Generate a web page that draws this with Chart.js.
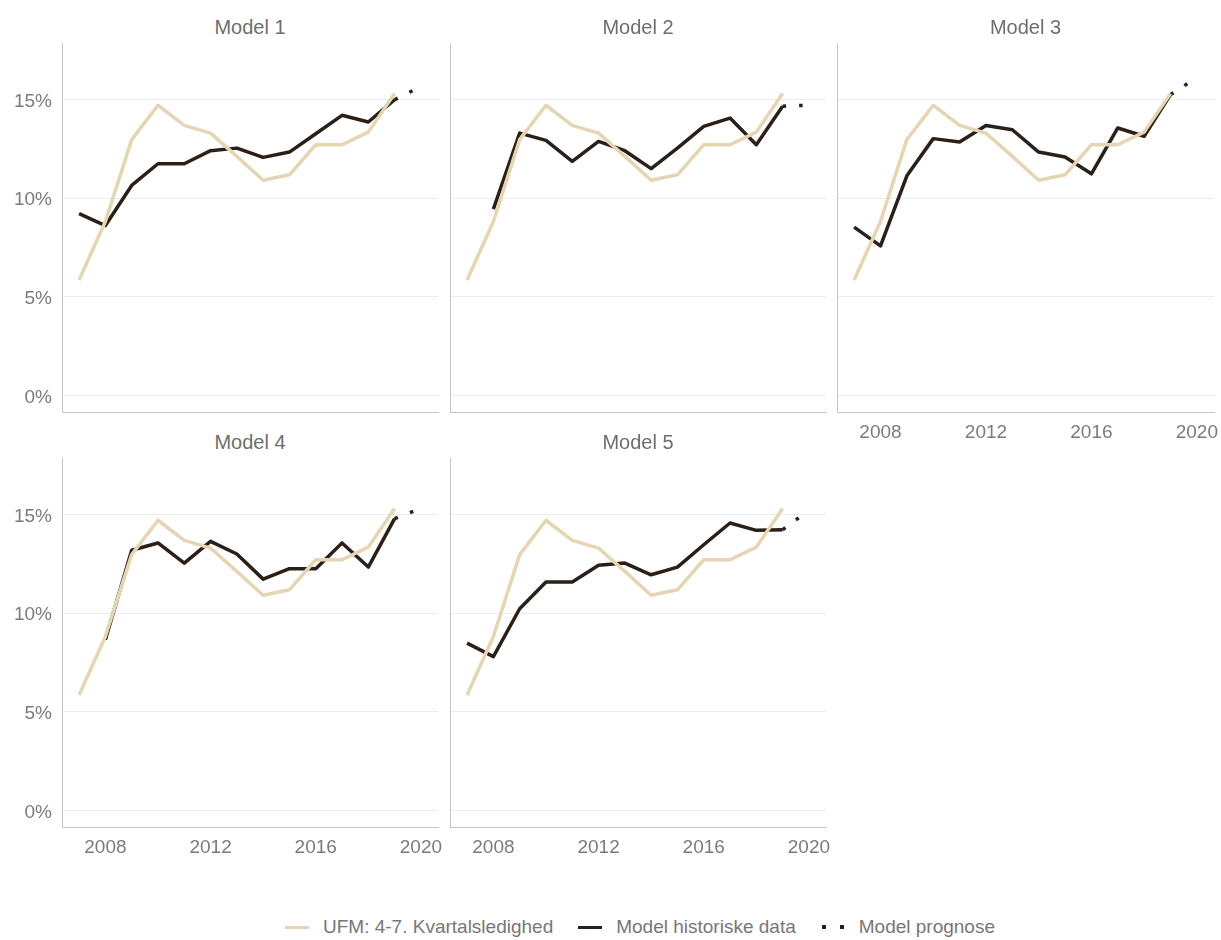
<!DOCTYPE html>
<html><head><meta charset="utf-8">
<script src="https://cdn.jsdelivr.net/npm/chart.js@4.4.1/dist/chart.umd.min.js"></script>
<style>
body{margin:0;background:#fff;width:1221px;height:940px;position:relative;overflow:hidden;font-family:"Liberation Sans",Arial,sans-serif;}
.ptitle{position:absolute;font-size:20px;line-height:20px;color:#6e6e6e;text-align:center;white-space:nowrap;}
canvas{position:absolute;}
#legend{position:absolute;top:916px;left:62px;width:1156px;height:22px;display:flex;justify-content:center;align-items:center;font-size:19px;color:#777;}
#legend .item{display:flex;align-items:center;margin:0 12.5px;}
#legend .key{width:24px;height:3px;margin-right:14px;position:relative;}
#legend .dots{width:24px;height:4px;margin-right:14px;position:relative;}
#legend .dots i{position:absolute;top:0;width:4px;height:4px;background:#2a2018;}
</style></head><body>
<div id="legend"></div>
<script>
// ---- data ----
const years = [2007, 2008, 2009, 2010, 2011, 2012, 2013, 2014, 2015, 2016, 2017, 2018, 2019];
const ufm    = [5.86, 8.82, 12.96, 14.70, 13.68, 13.29, 12.11, 10.90, 11.18, 12.70, 12.70, 13.34, 15.29];
const model1 = [9.21, 8.61, 10.64, 11.74, 11.74, 12.40, 12.53, 12.06, 12.33, 13.26, 14.19, 13.85, 14.98];
const model2 = [null, 9.44, 13.29, 12.92, 11.86, 12.87, 12.40, 11.49, 12.53, 13.63, 14.05, 12.70, 14.65];
const model3 = [8.53, 7.58, 11.13, 13.01, 12.84, 13.67, 13.46, 12.33, 12.08, 11.23, 13.55, 13.13, 15.24];
const model4 = [null, 8.65, 13.18, 13.55, 12.53, 13.63, 12.99, 11.72, 12.25, 12.25, 13.55, 12.33, 14.78];
const model5 = [8.48, 7.80, 10.22, 11.57, 11.57, 12.42, 12.53, 11.94, 12.33, 13.46, 14.56, 14.19, 14.22];
const prognoseYear = 2020;
const prognose = [15.65, 14.70, 16.10, 15.30, 15.20];
const panelTitles = ['Model 1', 'Model 2', 'Model 3', 'Model 4', 'Model 5'];
const seriesNames = ['UFM: 4-7. Kvartalsledighed', 'Model historiske data', 'Model prognose'];
const xTicks = [2008, 2012, 2016, 2020];
const yTicks = [0, 5, 10, 15];

// ---- style / layout ----
const TAN = 'rgb(230,213,178)';
const DARK = '#2a2018';
const models = [model1, model2, model3, model4, model5];
const layout = [
  {l: 62,  t: 43,  w: 376, h: 369, yLab: true,  xLab: false},
  {l: 450, t: 43,  w: 376, h: 369, yLab: false, xLab: false},
  {l: 837, t: 43,  w: 377, h: 369, yLab: false, xLab: true},
  {l: 62,  t: 458, w: 376, h: 369, yLab: true,  xLab: true},
  {l: 450, t: 458, w: 376, h: 369, yLab: false, xLab: true}
];
const X_MIN = 2006.35, X_MAX = 2020.65, Y_MIN = -0.825, Y_MAX = 17.85;
const FONT = '"Liberation Sans", Arial, sans-serif';

models.forEach((m, i) => {
  const L = layout[i];
  const yW = L.yLab ? 62 : 2;
  const xH = L.xLab ? 42 : 2;
  const padR = 12;
  const cv = document.createElement('canvas');
  const cw = yW + L.w + padR, ch = L.h + xH;
  cv.width = cw; cv.height = ch;
  cv.style.width = cw + 'px'; cv.style.height = ch + 'px';
  cv.style.left = (L.l - yW) + 'px'; cv.style.top = L.t + 'px';
  document.body.appendChild(cv);

  const t = document.createElement('div');
  t.className = 'ptitle';
  t.textContent = panelTitles[i];
  t.style.left = L.l + 'px'; t.style.width = L.w + 'px';
  t.style.top = (L.t - 26) + 'px';
  document.body.appendChild(t);

  const histPts = years.map((yr, k) => ({x: yr, y: m[k]}));
  const ufmPts = years.map((yr, k) => ({x: yr, y: ufm[k]}));
  const progPts = [{x: years[years.length - 1], y: m[m.length - 1]}, {x: prognoseYear, y: prognose[i]}];

  new Chart(cv, {
    type: 'line',
    data: {datasets: [
      {label: seriesNames[0], data: ufmPts, borderColor: TAN, borderWidth: 3.5, pointRadius: 0, tension: 0, borderJoinStyle: 'round'},
      {label: seriesNames[1], data: histPts, borderColor: DARK, borderWidth: 3.5, pointRadius: 0, tension: 0, borderJoinStyle: 'round', spanGaps: false},
      {label: seriesNames[2], data: progPts, borderColor: DARK, borderWidth: 3.5, pointRadius: 0, tension: 0, borderDash: [3.5, 13], borderCapStyle: 'butt'}
    ]},
    options: {
      responsive: false, animation: false, devicePixelRatio: 1,
      layout: {padding: {left: 0, right: padR, top: 0, bottom: 0}, autoPadding: false},
      plugins: {legend: {display: false}, tooltip: {enabled: false}, title: {display: false}},
      events: [],
      scales: {
        x: {
          type: 'linear', min: X_MIN, max: X_MAX,
          afterBuildTicks: s => { s.ticks = xTicks.map(v => ({value: v})); },
          afterFit: s => { s.height = xH; s.paddingLeft = 0; s.paddingRight = 0; },
          grid: {display: false, drawTicks: false},
          border: {display: true, color: '#c6c6c6', width: 1},
          ticks: {display: L.xLab, color: '#7b7b7b', font: {size: 19, family: FONT}, padding: 9, maxRotation: 0, autoSkip: false, callback: v => String(v)}
        },
        y: {
          type: 'linear', min: Y_MIN, max: Y_MAX,
          afterBuildTicks: s => { s.ticks = yTicks.map(v => ({value: v})); },
          afterFit: s => { s.width = yW; s.paddingTop = 0; s.paddingBottom = 0; },
          grid: {display: true, color: '#ececec', lineWidth: 1, drawTicks: false},
          border: {display: true, color: '#c6c6c6', width: 1},
          ticks: {display: L.yLab, color: '#7b7b7b', font: {size: 19, family: FONT}, padding: 10, labelOffset: 2, callback: v => v + '%'}
        }
      }
    }
  });
});

// ---- legend ----
const lg = document.getElementById('legend');
seriesNames.forEach((name, k) => {
  const it = document.createElement('div'); it.className = 'item';
  let key;
  if (k < 2) {
    key = document.createElement('span'); key.className = 'key';
    key.style.background = k === 0 ? TAN : DARK;
  } else {
    key = document.createElement('span'); key.className = 'dots';
    [1, 19].forEach(px => { const d = document.createElement('i'); d.style.left = px + 'px'; key.appendChild(d); });
  }
  const tx = document.createElement('span'); tx.textContent = name;
  it.appendChild(key); it.appendChild(tx); lg.appendChild(it);
});
</script>
</body></html>
